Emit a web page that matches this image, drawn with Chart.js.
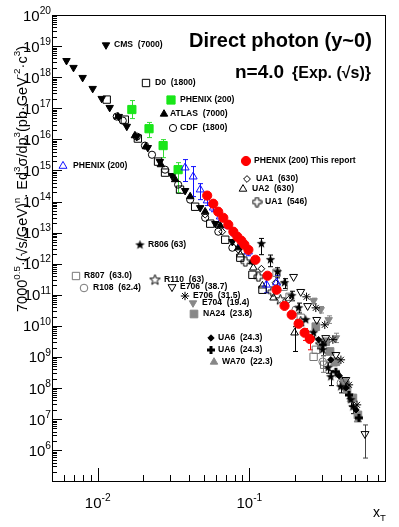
<!DOCTYPE html>
<html>
<head>
<meta charset="utf-8">
<title>Direct photon xT scaling</title>
<script src="https://cdn.jsdelivr.net/npm/chart.js"></script>
<style>
  body { margin: 0; background: #fff; }
  canvas { display: block; }
</style>
</head>
<body>
<canvas id="myChart" width="399" height="527"></canvas>
<script>
// ---- data: [xT, scaled cross section] ----
const phenixNew = [[0.0527,1.55e14],[0.0578,8.5e13],[0.0623,4.7e13],[0.0673,3.0e13],[0.0726,1.8e13],[0.0784,1.07e13],[0.0833,7.4e12],[0.0885,5.5e12],[0.0927,4.1e12],[0.0985,2.8e12],[0.1096,1.34e12],[0.1316,4.1e11],[0.151,1.45e11],[0.1705,4.4e10],[0.190,2.28e10],[0.211,1.17e10],[0.231,6.0e9],[0.250,3.8e9]];
const phenixNewErr = [null,null,null,null,null,null,null,null,null,null,null,null,null,null,null,null,[3.4e9,8.2e9],[1.7e9,5.2e9]];

const phenixGreen = [[0.0168,9.1e16],[0.0218,2.2e16],[0.0270,6.3e15],[0.0339,1.06e15]];
const phenixGreenErr = [[4.66e16,1.77e17],[1.14e16,3.5e16],[2.58e15,9.8e15],[1.93e14,1.78e15]];

const phenixBlue = [[0.0377,1.23e15],[0.0426,6.3e14],[0.0474,2.41e14],[0.0527,1.07e14],[0.0578,6.3e13],[0.0643,3.26e13],[0.0726,1.67e13],[0.0807,9.2e12],[0.0899,4.7e12],[0.0985,2.43e12],[0.1296,2.1e11],[0.151,2.44e11]];
const phenixBlueErr = [[4.4e14,2.23e15],[1.44e14,1.33e15],[1.15e14,3.76e14],[7.4e13,1.55e14],[4.7e13,8.5e13],[2.42e13,4.4e13],[1.34e13,2.1e13],[7.4e12,1.15e13],[3.8e12,5.9e12],[1.8e12,3.3e12],[1.16e11,3.8e11],[1.4e11,4.2e11]];

const cms = [[0.00623,3.4e18],[0.00693,2.04e18],[0.00796,9.7e17],[0.00927,4.3e17],[0.01063,2.05e17],[0.0120,1.05e17],[0.01377,5.4e16],[0.01556,2.6e16],[0.0181,1.23e16],[0.0214,5.4e15],[0.0257,1.92e15],[0.0309,6.8e14],[0.0377,2.24e14],[0.0474,6.3e13],[0.0596,1.94e13],[0.0772,5.1e12]];
const atlas = [[0.0136,5.4e16],[0.0176,1.32e16],[0.0208,5.85e15],[0.0261,1.54e15],[0.0324,5.1e14],[0.0407,1.44e14],[0.0511,4.7e13],[0.0643,1.67e13],[0.0846,3.27e12],[0.1047,1.16e12]];
const d0 = [[0.01147,1.9e17],[0.01509,4.3e16],[0.0184,1.06e16],[0.0250,1.92e15],[0.0278,8.5e14],[0.0349,2.41e14],[0.0439,6.8e13],[0.0552,1.94e13],[0.0693,5.9e12],[0.0871,1.56e12],[0.1047,4.4e11],[0.1219,1.45e11]];
const cdf = [[0.01336,5.4e16],[0.01464,4.0e16],[0.0181,1.23e16],[0.0205,6.3e15],[0.0228,3.2e15],[0.0278,1.06e15],[0.0339,3.5e14],[0.0407,1.15e14],[0.0511,3.0e13],[0.0624,1.07e13],[0.0772,3.27e12]];

const ua1_630 = [[0.0511,3.78e13],[0.0662,1.07e13],[0.0846,2.8e12],[0.1047,1.16e12],[0.120,6.9e11],[0.1486,2.44e11],[0.181,6.9e10]];
const ua2_630 = [[0.0871,1.95e12],[0.1062,7.4e11],[0.1219,1.95e11],[0.1442,8.0e10],[0.1985,6.0e9]];
const ua2_630Err = [null,null,null,null,[1.5e9,9.4e9]];
const ua1_546 = [[0.0940,1.16e12],[0.1147,3.8e11],[0.142,1.25e11]];

const r806 = [[0.120,4.4e12],[0.1377,1.34e12],[0.1531,5.5e11],[0.1705,2.44e11],[0.190,9.3e10],[0.211,3.8e10],[0.235,1.57e10],[0.265,6.0e9],[0.304,1.7e9],[0.330,4.5e8],[0.344,2.3e8],[0.400,1.1e8],[0.466,4.2e7],[0.481,2.48e7]];
const r806Err = [[1.95e12,6.5e12],[8e11,1.9e12],[3.5e11,7.4e11],[1.6e11,3.3e11],[6.4e10,1.3e11],[2.6e10,5.4e10],null,[4e9,8.5e9],[1.1e9,2.5e9],[3.0e8,6.5e8],[1.2e8,3.6e8],[7e7,1.6e8],[2.6e7,6.3e7],[1.5e7,3.8e7]];
const r807 = [[0.151,5.1e11],[0.168,1.82e11],[0.184,8.6e10],[0.218,1.82e10],[0.265,1.01e9],[0.274,1.7e9],[0.311,5.6e8]];
const r108 = [[0.202,3.3e10],[0.2535,5.2e9],[0.304,7.0e8],[0.401,1.47e8]];
const r108Err = [null,null,[3.2e8,1.1e9],null];
const r110 = [[0.160,6.9e10],[0.218,1.36e10],[0.295,2.46e9]];

const e706_387 = [[0.1955,3.8e11],[0.218,1.25e11],[0.242,4.4e10],[0.278,1.57e10],[0.3185,4.1e9],[0.3715,1.17e9],[0.432,1.84e8],[0.578,3.35e6]];
const e706_387Err = [null,null,null,null,null,null,null,[5.6e5,6.5e6]];
const e706_315 = [[0.238,8.6e10],[0.274,3.8e10],[0.314,1.08e10],[0.355,3.6e9],[0.401,8.1e8],[0.453,1.27e8],[0.512,2.88e7]];
const e704 = [[0.265,6.4e10],[0.295,3.3e10],[0.333,1.57e10],[0.3715,4.1e9]];
const e704Err = [[5.2e10,7.8e10],[2.6e10,4.2e10],[1.2e10,2.1e10],[2.9e9,5.8e9]];
const na24 = [[0.274,9.4e9],[0.3185,3.08e9],[0.340,1.5e9],[0.3715,7.0e8],[0.420,1.58e8],[0.440,9.0e7],[0.481,4.8e7],[0.519,1.37e7]];
const ua6d = [[0.286,3.6e9],[0.344,8.1e8],[0.390,2.5e8],[0.432,1.01e8],[0.504,1.99e7]];
const ua6c = [[0.304,2.46e9],[0.3715,3.33e8],[0.453,6.0e7],[0.527,1.1e7]];
const wa70 = [[0.333,1.47e9],[0.360,6.0e8],[0.388,2.66e8],[0.466,4.2e7],[0.519,9.5e6]];

// tick labels
const yLabelExps = [6,7,8,9,10,11,12,13,14,15,16,17,18,19,20];
const xLabelExps = [-2,-1];

const FONT = '"Liberation Sans", Arial, Helvetica, sans-serif';
const GRAY = '#878787';
const NONE = 'rgba(0,0,0,0)';

// ---- custom markers ----
function marker(size, draw) {
  const c = document.createElement('canvas');
  c.width = c.height = size;
  draw(c.getContext('2d'), size / 2);
  return c;
}
function starPath(g, c, R, r) {
  g.beginPath();
  for (let i = 0; i < 10; i++) {
    const a = -Math.PI / 2 + i * Math.PI / 5;
    const rr = i % 2 ? r : R;
    g.lineTo(c + rr * Math.cos(a), c + rr * Math.sin(a));
  }
  g.closePath();
}
function plusPath(g, c, a, b) {
  g.beginPath();
  g.moveTo(c - b, c - a); g.lineTo(c + b, c - a); g.lineTo(c + b, c - b);
  g.lineTo(c + a, c - b); g.lineTo(c + a, c + b); g.lineTo(c + b, c + b);
  g.lineTo(c + b, c + a); g.lineTo(c - b, c + a); g.lineTo(c - b, c + b);
  g.lineTo(c - a, c + b); g.lineTo(c - a, c - b); g.lineTo(c - b, c - b);
  g.closePath();
}
const starFilled = marker(11, (g, c) => { starPath(g, c, 5, 2.1); g.fillStyle = '#000'; g.fill(); });
const starOpen = marker(13, (g, c) => { starPath(g, c, 5.5, 2.3); g.strokeStyle = '#000'; g.lineWidth = 1; g.stroke(); });
const plusOpen = marker(11, (g, c) => { plusPath(g, c, 4.5, 1.6); g.strokeStyle = '#000'; g.lineWidth = 1; g.stroke(); });
const plusFilled = marker(10, (g, c) => { plusPath(g, c, 4, 1.5); g.fillStyle = '#000'; g.fill(); });

function ds(id, data, err, style) {
  return Object.assign({
    id: id,
    label: id,
    data: data.map(p => ({ x: p[0], y: p[1] })),
    err: err,
    showLine: false,
    pointBorderWidth: 1
  }, style);
}

const datasets = [
  ds('red', phenixNew, phenixNewErr, { pointStyle: 'circle', pointRadius: 4.6, pointBackgroundColor: '#ff0000', pointBorderColor: '#ff0000', errColor: '#ff0000' }),
  ds('blue', phenixBlue, phenixBlueErr, { pointStyle: 'triangle', pointRadius: 4.6, pointBackgroundColor: NONE, pointBorderColor: '#1010ff' }),
  ds('green', phenixGreen, phenixGreenErr, { pointStyle: 'rect', pointRadius: 5.8, pointBackgroundColor: '#19e619', pointBorderColor: '#19e619', errColor: '#33dd33' }),
  ds('cms', cms, null, { pointStyle: 'triangle', pointRotation: 180, pointRadius: 4.3, pointBackgroundColor: '#000', pointBorderColor: '#000' }),
  ds('atlas', atlas, null, { pointStyle: 'triangle', pointRadius: 4.3, pointBackgroundColor: '#000', pointBorderColor: '#000' }),
  ds('cdf', cdf, null, { pointStyle: 'circle', pointRadius: 3.6, pointBackgroundColor: NONE, pointBorderColor: '#000' }),
  ds('d0', d0, null, { pointStyle: 'rect', pointRadius: 5.2, pointBackgroundColor: NONE, pointBorderColor: '#000' }),
  ds('ua1_630', ua1_630, null, { pointStyle: 'rectRot', pointRadius: 3.4, pointBackgroundColor: NONE, pointBorderColor: '#000' }),
  ds('ua2_630', ua2_630, ua2_630Err, { pointStyle: 'triangle', pointRadius: 4.4, pointBackgroundColor: NONE, pointBorderColor: '#000' }),
  ds('ua1_546', ua1_546, null, { pointStyle: plusOpen, pointRadius: 4 }),
  ds('r806', r806, r806Err, { pointStyle: starFilled, pointRadius: 4, pointBorderColor: '#000' }),
  ds('r807', r807, null, { pointStyle: 'rect', pointRadius: 5.2, pointBackgroundColor: NONE, pointBorderColor: '#777' }),
  ds('r108', r108, r108Err, { pointStyle: 'circle', pointRadius: 3.8, pointBackgroundColor: NONE, pointBorderColor: '#777' }),
  ds('r110', r110, null, { pointStyle: starOpen, pointRadius: 4 }),
  ds('e706_387', e706_387, e706_387Err, { pointStyle: 'triangle', pointRotation: 180, pointRadius: 4.6, pointBackgroundColor: NONE, pointBorderColor: '#000', errColor: '#444' }),
  ds('e706_315', e706_315, null, { pointStyle: 'star', pointRadius: 4.2, pointBorderColor: '#000' }),
  ds('ua6d', ua6d, null, { pointStyle: 'rectRot', pointRadius: 3.2, pointBackgroundColor: '#000', pointBorderColor: '#000' }),
  ds('ua6c', ua6c, null, { pointStyle: plusFilled, pointRadius: 4 }),
  ds('e704', e704, e704Err, { pointStyle: 'triangle', pointRotation: 180, pointRadius: 4.3, pointBackgroundColor: GRAY, pointBorderColor: GRAY }),
  ds('na24', na24, null, { pointStyle: 'rect', pointRadius: 5.4, pointBackgroundColor: GRAY, pointBorderColor: GRAY }),
  ds('wa70', wa70, null, { pointStyle: 'triangle', pointRadius: 4.3, pointBackgroundColor: GRAY, pointBorderColor: GRAY })
];

// in-plot legend (marker position, text position)
const legendItems = [
  { id: 'cms', x: 106, y: 45, tx: 114, text: 'CMS  (7000)' },
  { id: 'd0', x: 146, y: 83, tx: 155, text: 'D0  (1800)' },
  { id: 'green', x: 171, y: 100, tx: 180, text: 'PHENIX (200)' },
  { id: 'atlas', x: 164, y: 114, tx: 170, text: 'ATLAS  (7000)' },
  { id: 'cdf', x: 173, y: 128, tx: 180, text: 'CDF  (1800)' },
  { id: 'blue', x: 63, y: 166, tx: 73, text: 'PHENIX (200)' },
  { id: 'red', x: 246, y: 161, tx: 254, text: 'PHENIX (200) This report' },
  { id: 'ua1_630', x: 247, y: 179, tx: 256, text: 'UA1  (630)' },
  { id: 'ua2_630', x: 243, y: 189, tx: 252, text: 'UA2  (630)' },
  { id: 'ua1_546', x: 257, y: 202, tx: 265, text: 'UA1  (546)' },
  { id: 'r806', x: 140, y: 245, tx: 148, text: 'R806 (63)' },
  { id: 'r807', x: 76, y: 276, tx: 84, text: 'R807  (63.0)' },
  { id: 'r108', x: 84, y: 288, tx: 93, text: 'R108  (62.4)' },
  { id: 'r110', x: 155, y: 280, tx: 164, text: 'R110  (63)' },
  { id: 'e706_387', x: 172, y: 287, tx: 180, text: 'E706  (38.7)' },
  { id: 'e706_315', x: 185, y: 296, tx: 193, text: 'E706  (31.5)' },
  { id: 'e704', x: 193, y: 303, tx: 202, text: 'E704  (19.4)' },
  { id: 'na24', x: 194, y: 314, tx: 203, text: 'NA24  (23.8)' },
  { id: 'ua6d', x: 211, y: 338, tx: 218, text: 'UA6  (24.3)' },
  { id: 'ua6c', x: 211, y: 350, tx: 218, text: 'UA6  (24.3)' },
  { id: 'wa70', x: 214, y: 362, tx: 222, text: 'WA70  (22.3)' }
];

// text with super/subscripts: parts are strings or [text, 1 (sup) | -1 (sub)]
function rich(ctx, parts, x, y, align, size, bold) {
  const f = s => (bold ? 'bold ' : '') + s + 'px ' + FONT;
  let w = 0;
  const m = parts.map(p => {
    const s = typeof p === 'string' ? { t: p, k: 0 } : { t: p[0], k: p[1] };
    s.fs = s.k ? size * 0.68 : size;
    ctx.font = f(s.fs);
    s.w = ctx.measureText(s.t).width;
    w += s.w;
    return s;
  });
  let cx = align === 'right' ? x - w : align === 'center' ? x - w / 2 : x;
  ctx.textAlign = 'left';
  ctx.textBaseline = 'alphabetic';
  m.forEach(s => {
    ctx.font = f(s.fs);
    const dy = s.k === 1 ? -size * 0.45 : s.k === -1 ? size * 0.28 : 0;
    ctx.fillText(s.t, cx, y + dy);
    cx += s.w;
  });
  return w;
}

const errorBars = {
  id: 'errorBars',
  beforeDatasetsDraw(chart) {
    const { ctx, scales: { x, y } } = chart;
    ctx.save();
    ctx.lineWidth = 1;
    chart.data.datasets.forEach(d => {
      if (!d.err) return;
      ctx.strokeStyle = d.errColor || d.pointBorderColor || '#000';
      d.data.forEach((p, i) => {
        const e = d.err[i];
        if (!e) return;
        const px = Math.round(x.getPixelForValue(p.x)) + 0.5;
        const y0 = y.getPixelForValue(e[0]), y1 = y.getPixelForValue(e[1]);
        ctx.beginPath();
        ctx.moveTo(px, y0); ctx.lineTo(px, y1);
        ctx.moveTo(px - 2.5, y0); ctx.lineTo(px + 2.5, y0);
        ctx.moveTo(px - 2.5, y1); ctx.lineTo(px + 2.5, y1);
        ctx.stroke();
      });
    });
    ctx.restore();
  }
};

const frame = {
  id: 'frame',
  afterDraw(chart) {
    const { ctx, chartArea: a, scales: { x, y } } = chart;
    ctx.save();
    ctx.strokeStyle = '#000';
    ctx.lineWidth = 1;
    ctx.strokeRect(a.left + 0.5, a.top + 0.5, a.right - a.left - 1, a.bottom - a.top - 1);

    ctx.beginPath();
    for (let e = 4; e <= 20; e++) {
      for (let k = 1; k <= 9; k++) {
        const v = k * Math.pow(10, e);
        if (v < y.min || v > y.max) continue;
        const py = Math.round(y.getPixelForValue(v)) + 0.5;
        ctx.moveTo(a.left, py);
        ctx.lineTo(a.left + (k === 1 ? 10 : 5), py);
      }
    }
    for (let e = -3; e <= 0; e++) {
      for (let k = 1; k <= 9; k++) {
        const v = k * Math.pow(10, e);
        if (v < x.min || v > x.max) continue;
        const px = Math.round(x.getPixelForValue(v)) + 0.5;
        ctx.moveTo(px, a.bottom);
        ctx.lineTo(px, a.bottom - (k === 1 ? 14 : 7));
      }
    }
    ctx.stroke();

    ctx.fillStyle = '#000';
    yLabelExps.forEach(e => {
      const py = y.getPixelForValue(Math.pow(10, e));
      rich(ctx, ['10', [String(e), 1]], a.left - 1, py + 5.5, 'right', 15);
    });
    xLabelExps.forEach(e => {
      const px = x.getPixelForValue(Math.pow(10, e));
      rich(ctx, ['10', [String(e), 1]], px, 508, 'center', 15);
    });
    rich(ctx, ['x', ['T', -1]], 373, 517, 'left', 14);

    // y axis title
    ctx.save();
    ctx.translate(27, 179);
    ctx.rotate(-Math.PI / 2);
    rich(ctx, ['7000', ['0.5', 1], '\u00b7(\u221as/GeV)', ['n', 1], '. Ed', ['3', 1], '\u03c3/dp', ['3', 1],
      '(pb\u00b7GeV', ['-2', 1], '\u00b7c', ['3', 1], ')'], 0, 0, 'center', 14.5);
    ctx.restore();

    // titles
    rich(ctx, ['Direct photon (y~0)'], 189, 47, 'left', 20, true);
    rich(ctx, ['n=4.0'], 235, 78, 'left', 19, true);
    rich(ctx, ['{Exp. (\u221as)}'], 292, 78, 'left', 16, true);

    // legend entries
    legendItems.forEach(it => {
      const d = chart.data.datasets.find(s => s.id === it.id);
      ctx.save();
      ctx.fillStyle = d.pointBackgroundColor || NONE;
      ctx.strokeStyle = d.pointBorderColor || '#000';
      ctx.lineWidth = d.pointBorderWidth;
      Chart.helpers.drawPoint(ctx, {
        pointStyle: d.pointStyle, rotation: d.pointRotation || 0,
        radius: d.pointRadius, borderWidth: d.pointBorderWidth
      }, it.x, it.y);
      ctx.restore();
      ctx.fillStyle = '#000';
      ctx.font = 'bold 8.6px ' + FONT;
      ctx.textAlign = 'left';
      ctx.textBaseline = 'middle';
      ctx.fillText(it.text, it.tx, it.y);
    });
    ctx.restore();
  }
};

new Chart(document.getElementById('myChart').getContext('2d'), {
  type: 'scatter',
  data: { datasets: datasets },
  options: {
    responsive: false,
    animation: false,
    events: [],
    layout: { padding: { left: 0, top: 15, right: 13, bottom: 0 } },
    plugins: { legend: { display: false }, tooltip: { enabled: false } },
    scales: {
      x: {
        type: 'logarithmic', min: 0.005, max: 0.795,
        grid: { display: false }, border: { display: false }, ticks: { display: false },
        afterFit(s) { s.height = 45; }
      },
      y: {
        type: 'logarithmic', min: 9.5e4, max: 1e20,
        grid: { display: false }, border: { display: false }, ticks: { display: false },
        afterFit(s) { s.width = 52; }
      }
    }
  },
  plugins: [errorBars, frame]
});
</script>
</body>
</html>
